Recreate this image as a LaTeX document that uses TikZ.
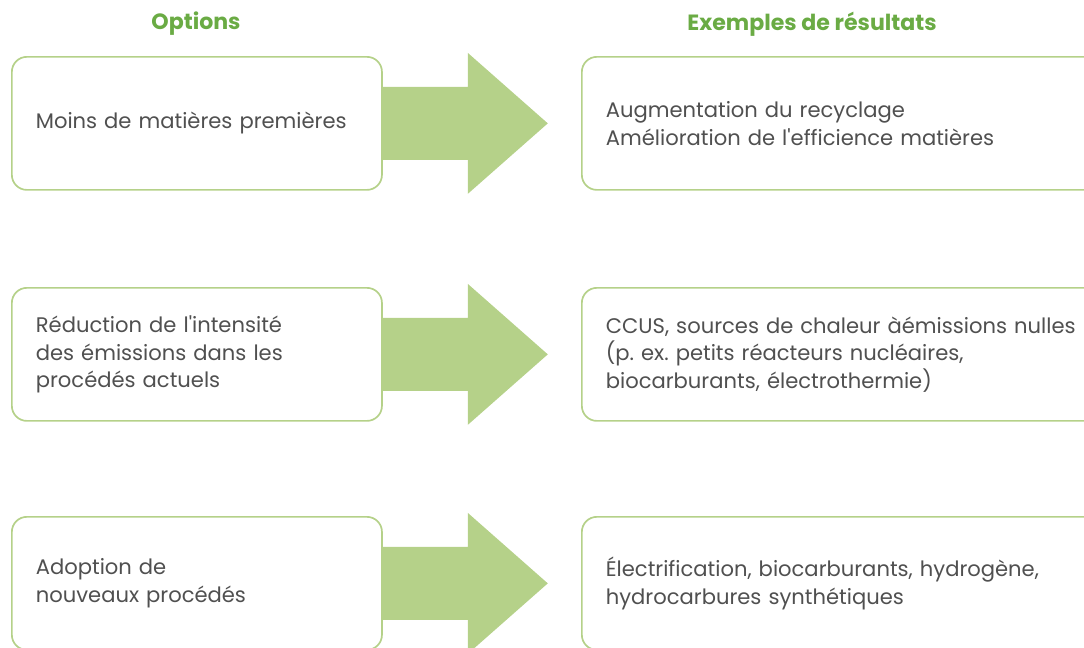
\documentclass[tikz,border=0pt]{standalone}
\usepackage{fontspec}
\setmainfont{Poppins}
\usetikzlibrary{positioning, calc}
\definecolor{headgreen}{HTML}{6AAB44}
\definecolor{arrgreen}{HTML}{B5D189}
\definecolor{txtgray}{HTML}{505050}
\frenchspacing

\begin{document}
\begin{tikzpicture}[x=0.025cm, y=-0.025cm]

% Uniform box size

\def\boxleft{9.25cm}
\def\boxright{13cm}
\def\boxheight{3.325cm}

\tikzset{
  optbox/.style={draw=arrgreen, line width=1.2pt, rounded corners=0.375cm, fill=white,
    anchor=north west, minimum height=\boxheight, inner xsep=0.6cm, align=left,
    text=txtgray, font=\fontsize{15}{19.5}\selectfont},
  heading/.style={text=headgreen, font=\fontsize{15.7}{18}\selectfont\bfseries}
}

\useasboundingbox (0,0) rectangle (1084,647);
\clip (0,0) rectangle (1084,647);

\node[heading] (hopt) at (196,24) {Options};
\node[heading] (hres) at (812,24) {Exemples de résultats};

\node[optbox, minimum width=\boxleft, text width=8.05cm]
(l1) at (11,56)  {Moins de matières premières};
\node[optbox, minimum width=\boxleft, text width=8.05cm]
(l2) at (11,287) {Réduction de l\textquotesingle intensité\\des émissions dans les\\procédés actuels};
\node[optbox, minimum width=\boxleft, text width=8.05cm]
(l3) at (11,516) {Adoption de\\nouveaux procédés};

\node[optbox, minimum width=\boxright, text width=11.8cm]
(r1) at (581,56)  {Augmentation du recyclage\\Amélioration de l\textquotesingle efficience matières};
\node[optbox, minimum width=\boxright, text width=11.8cm]
(r2) at (581,287) {CCUS, sources de chaleur àémissions nulles\\(p. ex. petits réacteurs nucléaires,\\biocarburants, électrothermie)};
\node[optbox, minimum width=\boxright, text width=11.8cm]
(r3) at (581,516) {Électrification, biocarburants, hydrogène,\\hydrocarbures synthétiques};

% Block arrows
\foreach \n in {1,2,3} {
  \coordinate (tip\n) at ($(l\n.east)+(165,0)$);
  \fill[arrgreen] ($(l\n.east)+(0,-36.5)$) -- ++(85,0) -- ++(0,-34)
    -- (tip\n) -- ($(l\n.east)+(85,70.5)$) -- ++(0,-34) -- ($(l\n.east)+(0,36.5)$) -- cycle;
}

\end{tikzpicture}
\end{document}
